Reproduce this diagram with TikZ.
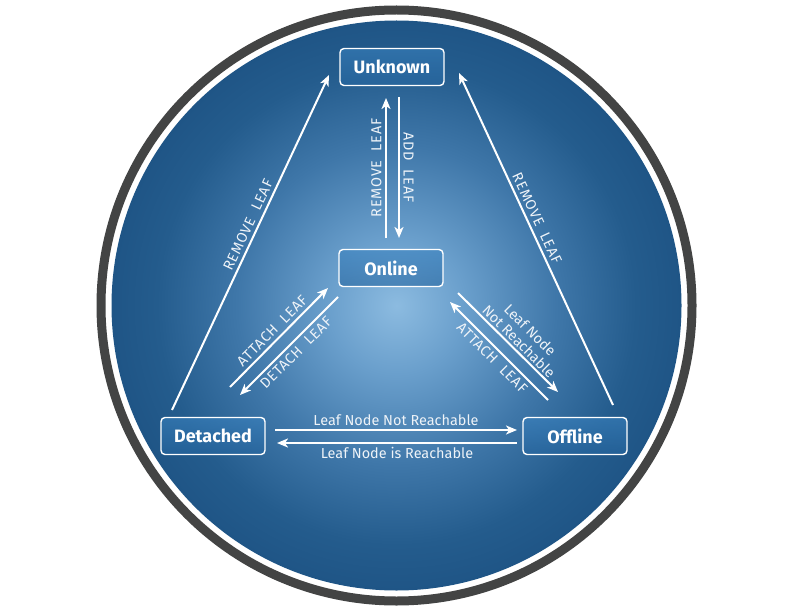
\documentclass[tikz,border=0pt]{standalone}
\usepackage{fontspec}
\setmainfont{Fira Sans}
\usetikzlibrary{arrows.meta,calc}
\definecolor{ringgray}{HTML}{434444}
\definecolor{glowa}{HTML}{8CBBE0}
\definecolor{glowb}{HTML}{6A9FCC}
\definecolor{glowc}{HTML}{3F77A9}
\definecolor{glowd}{HTML}{245C8D}
\definecolor{glowe}{HTML}{1F5586}
\definecolor{boxtop}{HTML}{3A82BF}
\definecolor{boxbot}{HTML}{25659F}
\definecolor{labeltext}{HTML}{EEF3F8}
\pgfdeclareradialshading{discglow}{\pgfpoint{0bp}{0bp}}{color(0bp)=(glowa); color(6bp)=(glowb); color(14bp)=(glowc); color(21bp)=(glowd); color(25bp)=(glowe); color(50bp)=(glowe)}
\tikzstyle{state}=[draw=white, line width=1.4bp, rounded corners=4bp, minimum width=104bp, minimum height=37bp, top color=boxtop, bottom color=boxbot, fill opacity=0.6, text opacity=1, text=white, font=\fontsize{18}{20}\selectfont\bfseries]
\tikzstyle{trans}=[draw=white, line width=2bp, -{Stealth[length=11bp,width=9bp,inset=3bp]}]
\tikzstyle{lbl}=[text=labeltext, font=\fontsize{14.5}{16}\selectfont, inner sep=3.5bp]
\tikzstyle{caps}=[lbl, font=\fontsize{14.5}{16}\selectfont\addfontfeature{LetterSpace=5}]

\begin{document}
\begin{tikzpicture}[x=1bp, y=-1bp]
\useasboundingbox (0,0) rectangle (792,612);
\fill[white] (0,0) rectangle (792,612);
\draw[ringgray, line width=9bp] (396.5,305.5) circle (295.5);
\shade[shading=discglow] (396.5,305.5) circle (285);

\node[state] (unknown) at (392,67) {Unknown};
\node[state] (online) at (391,268) {Online};
\node[state] (detached) at (213,436) {Detached};
\node[state] (offline) at (575,436) {Offline};

\draw[trans] ($(online)+(-5,-30)$) -- node[caps, sloped, above] {REMOVE\ \ LEAF} ($(unknown)+(-6,31)$);
\draw[trans] ($(unknown)+(7,30)$) -- node[caps, sloped, above] {ADD\ \ LEAF} ($(online)+(8,-30)$);
\draw[trans] ($(detached)+(-41,-26)$) -- node[caps, sloped, above, pos=0.54] {REMOVE\ \ LEAF} ($(unknown)+(-63,8)$);
\draw[trans] ($(offline)+(38,-31)$) -- node[caps, sloped, above, pos=0.55] {REMOVE\ \ LEAF} ($(unknown)+(67,6)$);
\draw[trans] ($(detached)+(17,-49)$) -- node[caps, sloped, above] {ATTACH\ \ LEAF} ($(online)+(-63,20)$);
\draw[trans] ($(online)+(-53,29)$) -- node[caps, sloped, below] {DETACH\ \ LEAF} ($(detached)+(27,-41)$);
\draw[trans] ($(online)+(67,25)$) -- node[lbl, sloped, above, align=center, pos=0.55, inner sep=2bp] {Leaf Node\\Not Reachable} ($(offline)+(-17,-44)$);
\draw[trans] ($(offline)+(-27,-36)$) -- node[caps, sloped, below] {ATTACH\ \ LEAF} ($(online)+(59,34)$);
\draw[trans] ($(detached)+(62,-6)$) -- node[lbl, above] {Leaf Node Not Reachable} ($(offline)+(-58,-6)$);
\draw[trans] ($(offline)+(-58,7)$) -- node[lbl, below] {Leaf Node is Reachable} ($(detached)+(64,7)$);
\end{tikzpicture}
\end{document}
